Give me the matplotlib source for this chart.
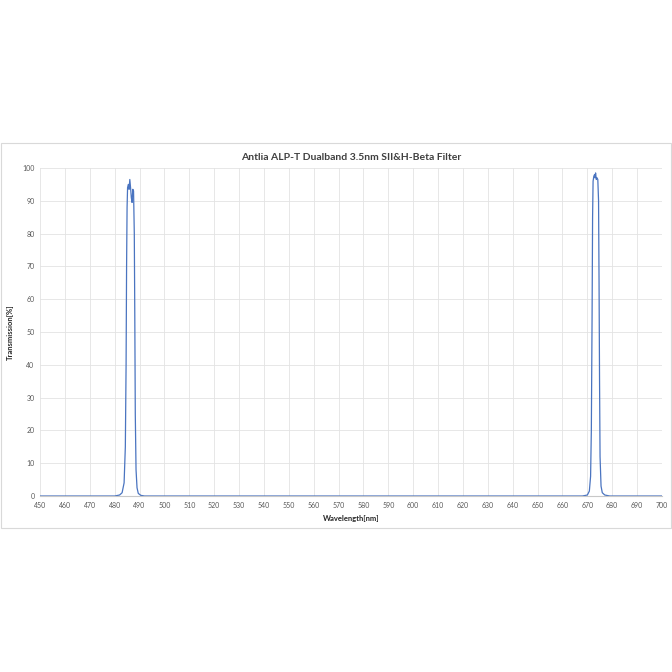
import matplotlib
matplotlib.use('Agg')
import matplotlib.pyplot as plt
from matplotlib.patches import Rectangle

# wavelength [nm] and transmission [%]
wavelength = [450, 480, 482, 483, 483.8, 484.3, 484.6, 484.8, 485.0, 485.2,
              485.5, 485.8, 486.1, 486.4, 486.7, 487.0, 487.3, 487.6, 487.9,
              488.1, 488.3, 488.6, 489.0, 489.5, 490.5, 492,
              668, 670, 670.8, 671.3, 671.6, 671.9, 672.1, 672.3, 672.6,
              672.9, 673.1, 673.3, 673.6, 673.9, 674.2, 674.5, 674.7, 674.9,
              675.1, 675.5, 676, 677, 679, 700]
transmission = [0, 0, 0.3, 1.0, 4, 15, 40, 70, 88, 94,
                95, 93.5, 96.5, 94, 91, 89.5, 93.5, 93, 80,
                55, 25, 8, 2.5, 0.8, 0.2, 0,
                0, 0.3, 1.5, 6, 20, 55, 85, 96, 97.5,
                98, 97, 98.5, 96.5, 97, 96.5, 90, 65, 35,
                12, 3, 1, 0.3, 0, 0]

x_ticks = list(range(450, 701, 10))
y_ticks = list(range(0, 101, 10))

plt.rcParams['font.family'] = ['Lato', 'DejaVu Sans']

fig = plt.figure(figsize=(6.72, 6.72), dpi=100)
fig.patches.append(Rectangle((0.002, 1 - 528 / 672), 0.996, 385 / 672,
                             transform=fig.transFigure, fill=False,
                             edgecolor='#d9d9d9', linewidth=0.8))

ax = fig.add_axes([40 / 672, 1 - 496 / 672, 622 / 672, 328 / 672])
ax.plot(wavelength, transmission, color='#4a74c0', linewidth=0.9)

ax.set_xlim(450, 700)
ax.set_ylim(0, 100)
ax.set_xticks(x_ticks)
ax.set_yticks(y_ticks)
ax.grid(True, color='#e3e3e3', linewidth=0.6)
ax.set_axisbelow(True)
for side in ['top', 'right', 'left']:
    ax.spines[side].set_visible(False)
ax.spines['bottom'].set_color('#c8c8c8')
ax.spines['bottom'].set_linewidth(0.8)
ax.tick_params(length=0, labelsize=5, labelcolor='#595959', pad=4)

ax.set_title('Antlia ALP-T Dualband 3.5nm SII&H-Beta Filter', fontsize=7.5,
             fontweight='bold', color='#404040', pad=6)
ax.set_xlabel('Wavelength[nm]', fontsize=5.5, fontweight='bold', color='#262626', labelpad=5)
ax.set_ylabel('Transmission[%]', fontsize=5.5, fontweight='bold', color='#262626', labelpad=6)

fig.savefig('out.png', dpi=100)
